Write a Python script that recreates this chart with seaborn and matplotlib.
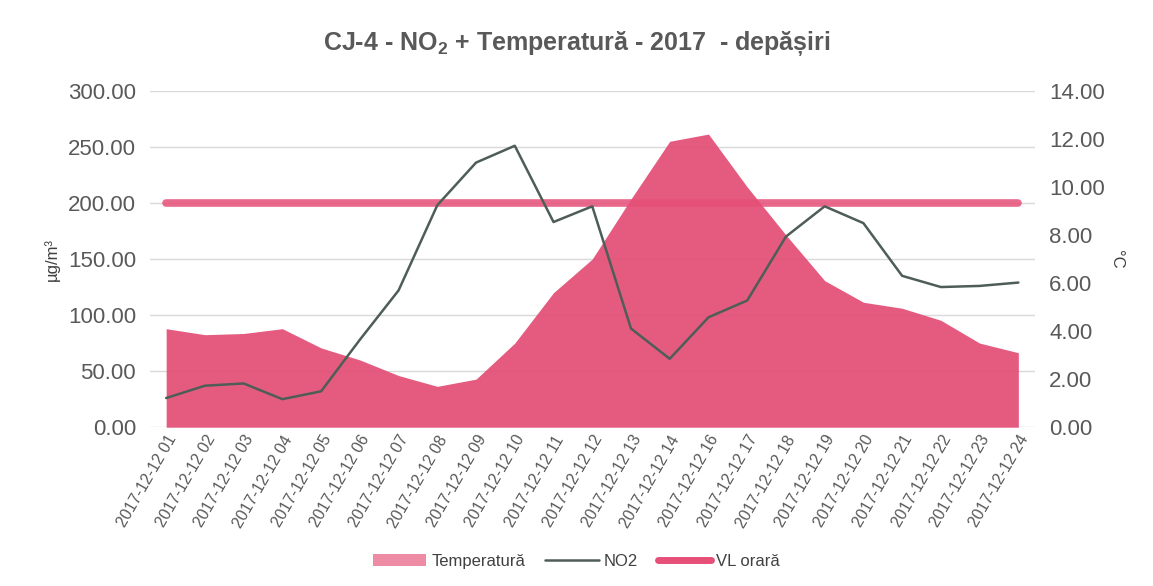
import matplotlib
matplotlib.use("Agg")
import matplotlib.pyplot as plt
import seaborn as sns
import pandas as pd
from matplotlib.patches import Patch
from matplotlib.lines import Line2D

hours = ["01", "02", "03", "04", "05", "06", "07", "08", "09", "10", "11", "12",
         "13", "14", "16", "17", "18", "19", "20", "21", "22", "23", "24"]
categories = ["2017-12-12 " + h for h in hours]
no2 = [26, 37, 39, 25, 32, 78, 122, 198, 236, 251, 183, 197,
       88, 61, 98, 113, 170, 197, 182, 135, 125, 126, 129]
temperature = [4.1, 3.85, 3.9, 4.1, 3.3, 2.8, 2.15, 1.7, 2.0, 3.5, 5.6, 7.0,
               9.5, 11.9, 12.2, 10.0, 8.0, 6.1, 5.2, 4.95, 4.45, 3.5, 3.1]
vl_orara = [200] * len(categories)

sns.set_theme(style="white")
fam = ["Liberation Sans Narrow", "Liberation Sans", "DejaVu Sans"]
plt.rcParams["font.family"] = fam
plt.rcParams["mathtext.default"] = "regular"

gray = "#595959"
pink_fill = "#E34D75"
no2_col = "#4E5E57"
vl_col = "#E64F78"

df = pd.DataFrame({"idx": range(len(categories)), "cat": categories,
                   "NO2": no2, "temp": temperature, "VL": vl_orara})

fig = plt.figure(figsize=(11.53, 5.86), dpi=100)
ax = fig.add_axes([0.130, 0.271, 0.768, 0.574])
ax2 = ax.twinx()

# temperature area on secondary axis (behind)
ax2.fill_between(df["idx"], 0, df["temp"], color=pink_fill, alpha=0.92, linewidth=0)
ax2.set_ylim(0, 14)
ax2.set_yticks(range(0, 15, 2))
ax2.set_yticklabels([f"{v:.2f}" for v in range(0, 15, 2)])

ax.set_zorder(ax2.get_zorder() + 1)
ax.patch.set_visible(False)

for y in range(0, 301, 50):
    ax2.axhline(y / 300 * 14, color="#D9D9D9", lw=1.0, zorder=0)

sns.lineplot(data=df, x="idx", y="VL", ax=ax, color=vl_col, lw=5.5, alpha=0.85,
             solid_capstyle="round", legend=False)
sns.lineplot(data=df, x="idx", y="NO2", ax=ax, color=no2_col, lw=1.8, legend=False)

ax.set_ylim(0, 300)
ax.set_yticks(range(0, 301, 50))
ax.set_yticklabels([f"{v:.2f}" for v in range(0, 301, 50)])
ax.set_xlim(-0.42, 22.44)
ax.set_xticks(df["idx"])
ax.set_xticklabels(categories, rotation=60, ha="right", rotation_mode="anchor")

for a in (ax, ax2):
    for s in a.spines.values():
        s.set_visible(False)
    a.tick_params(axis="both", length=0, colors=gray)
ax.tick_params(axis="y", labelsize=16, pad=10)
ax2.tick_params(axis="y", labelsize=16, pad=10)
ax.tick_params(axis="x", labelsize=11.5, pad=4)
ax.grid(False)
ax2.grid(False)

ax.set_xlabel("")
ax.set_ylabel("µg/m³", fontsize=12, color="#404040", labelpad=6)
ax2.set_ylabel("°C", fontsize=12, color="#404040", rotation=-90, labelpad=14)

fig.text(0.5, 0.925, "CJ-4 - NO$_2$ + Temperatură - 2017  - depășiri",
         ha="center", va="center", fontsize=18, fontweight="bold", color=gray)

handles = [Patch(facecolor="#EE8CA5", edgecolor="none"),
           Line2D([0], [0], color=no2_col, lw=1.8),
           Line2D([0], [0], color=vl_col, lw=5)]
fig.legend(handles, ["Temperatură", "NO2", "VL orară"], loc="center",
           bbox_to_anchor=(0.5, 0.042), ncol=3, frameon=False, fontsize=12,
           labelcolor="#404040", handlelength=3.2, columnspacing=1.2, handletextpad=0.3)

fig.savefig("out.png", dpi=100)
